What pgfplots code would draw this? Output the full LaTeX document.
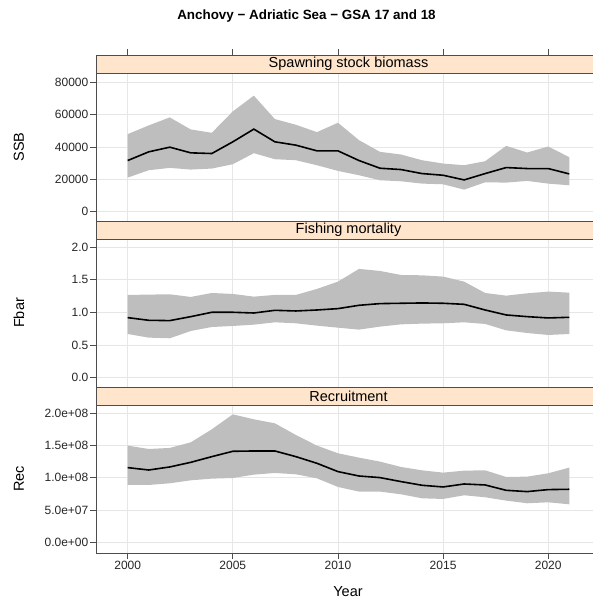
\documentclass[border=0pt]{standalone}
\usepackage{pgfplots}
\pgfplotsset{compat=1.18}
\usepackage{pgfplotstable}
\usepgfplotslibrary{fillbetween}
\usepackage{fontspec}
\setmainfont{Liberation Sans}
\definecolor{stripc}{HTML}{FFE5CC}
\definecolor{bandc}{HTML}{BEBEBE}
\definecolor{gridc}{HTML}{E6E6E6}
\definecolor{framec}{HTML}{4D4D4D}

\pgfplotstableread{
year lo med hi
2000 21090 31630 47960
2001 25630 37000 53330
2002 27080 39900 58300
2003 26050 36380 50850
2004 26670 35970 48790
2005 29350 43200 62020
2006 36180 51060 71730
2007 32450 43200 57260
2008 31830 41140 53750
2009 28730 37620 49200
2010 25220 37620 54990
2011 22530 31630 44240
2012 19430 26870 37000
2013 18810 26050 35350
2014 17360 23570 31830
2015 16950 22530 29770
2016 13640 19640 28730
2017 18190 23570 31210
2018 17980 27290 40720
2019 19020 26670 36590
2020 17360 26670 40310
2021 16330 23360 33700
}\ssbdata

\pgfplotstableread{
year lo med hi
2000 0.670 0.921 1.269
2001 0.614 0.880 1.274
2002 0.604 0.875 1.279
2003 0.716 0.936 1.238
2004 0.777 1.003 1.299
2005 0.793 1.003 1.284
2006 0.813 0.992 1.243
2007 0.849 1.033 1.269
2008 0.834 1.023 1.269
2009 0.798 1.038 1.361
2010 0.767 1.059 1.473
2011 0.737 1.110 1.668
2012 0.783 1.136 1.637
2013 0.818 1.141 1.575
2014 0.829 1.146 1.570
2015 0.834 1.141 1.550
2016 0.849 1.125 1.473
2017 0.824 1.038 1.299
2018 0.726 0.962 1.258
2019 0.685 0.936 1.294
2020 0.655 0.916 1.320
2021 0.670 0.926 1.304
}\fdata

\pgfplotstableread{
year lo med hi
2000 0.889e8 1.158e8 1.499e8
2001 0.889e8 1.121e8 1.447e8
2002 0.915e8 1.168e8 1.463e8
2003 0.961e8 1.240e8 1.550e8
2004 0.987e8 1.328e8 1.752e8
2005 0.997e8 1.411e8 1.984e8
2006 1.049e8 1.416e8 1.907e8
2007 1.075e8 1.416e8 1.845e8
2008 1.054e8 1.328e8 1.664e8
2009 0.992e8 1.225e8 1.499e8
2010 0.858e8 1.096e8 1.380e8
2011 0.786e8 1.028e8 1.313e8
2012 0.786e8 1.003e8 1.251e8
2013 0.744e8 0.941e8 1.168e8
2014 0.682e8 0.884e8 1.116e8
2015 0.672e8 0.858e8 1.080e8
2016 0.729e8 0.904e8 1.111e8
2017 0.698e8 0.889e8 1.116e8
2018 0.646e8 0.806e8 1.013e8
2019 0.605e8 0.786e8 1.018e8
2020 0.620e8 0.817e8 1.070e8
2021 0.589e8 0.822e8 1.158e8
}\recdata

\pgfplotsset{
  panel/.style={
    scale only axis, width=505pt, height=166pt,
    anchor=south west,
    xmin=1998.493, xmax=2022.51,
    clip=false,
    scaled y ticks=false, scaled x ticks=false,
    axis line style={draw=framec, line width=0.8pt},
    tick align=outside, major tick length=6pt,
    tick style={draw=framec, line width=0.8pt},
    ytick pos=left,
    xtick={2000,2005,2010,2015,2020},
    grid=major, major grid style={draw=gridc, line width=0.8pt},
    ticklabel style={font=\fontsize{12}{14}\selectfont, text=black!85},
    yticklabel style={anchor=east, inner sep=0pt, xshift=-1.5pt},
    xticklabel style={inner sep=0pt, yshift=-2pt},
  },
}
\tikzset{stripbox/.style={fill=stripc, draw=framec, line width=0.8pt}}

\newcommand{\panelbody}[2]{%
  \addplot[name path=U#2, draw=none, forget plot] table[x=year, y=hi] {#1};
  \addplot[name path=L#2, draw=none, forget plot] table[x=year, y=lo] {#1};
  \addplot[fill=bandc, draw=none, forget plot] fill between[of=U#2 and L#2];
  \addplot[black, line width=1.6pt, forget plot] table[x=year, y=med] {#1};
}

\begin{document}
\begin{tikzpicture}[x=1pt,y=1pt]

% SSB
\begin{axis}[panel, at={(96pt,379pt)},
  ymin=-5750, ymax=96878,
  ytick={0,20000,40000,60000,80000},
  yticklabels={0,20000,40000,60000,80000},
  xtick pos=right, xticklabels={}]
\panelbody{\ssbdata}{a}
\draw[stripbox] (rel axis cs:0,0.89157) rectangle (rel axis cs:1,1);
\node[font=\fontsize{14.5}{16}\selectfont] at (rel axis cs:0.5,0.9458) {Spawning stock biomass};
\end{axis}

% Fbar
\begin{axis}[panel, at={(96pt,213pt)},
  ymin=-0.143, ymax=2.403,
  ytick={0,0.5,1,1.5,2},
  yticklabels={0.0,0.5,1.0,1.5,2.0},
  xmajorticks=false, xticklabels={}]
\panelbody{\fdata}{b}
\draw[stripbox] (rel axis cs:0,0.89157) rectangle (rel axis cs:1,1);
\node[font=\fontsize{14.5}{16}\selectfont] at (rel axis cs:0.5,0.9458) {Fishing mortality};
\end{axis}

% Rec
\begin{axis}[panel, at={(96pt,47pt)},
  ymin=-0.166e8, ymax=2.408e8,
  ytick={0,0.5e8,1e8,1.5e8,2e8},
  yticklabels={0.0e+00,5.0e+07,1.0e+08,1.5e+08,2.0e+08},
  xtick pos=left, xticklabels={2000,2005,2010,2015,2020}]
\panelbody{\recdata}{c}
\draw[stripbox] (rel axis cs:0,0.89157) rectangle (rel axis cs:1,1);
\node[font=\fontsize{14.5}{16}\selectfont] at (rel axis cs:0.5,0.9458) {Recruitment};
\end{axis}

\node[font=\bfseries\fontsize{13.4}{15}\selectfont] at (306.5,584) {Anchovy − Adriatic Sea − GSA 17 and 18};
\node[font=\fontsize{14.5}{16}\selectfont] at (348,8.5) {Year};
\node[rotate=90, font=\fontsize{14.5}{16}\selectfont] at (19,453) {SSB};
\node[rotate=90, font=\fontsize{14.5}{16}\selectfont] at (19,287) {Fbar};
\node[rotate=90, font=\fontsize{14.5}{16}\selectfont] at (19,121) {Rec};

\pgfresetboundingbox
\useasboundingbox (0,0) rectangle (592,600);
\end{tikzpicture}
\end{document}
